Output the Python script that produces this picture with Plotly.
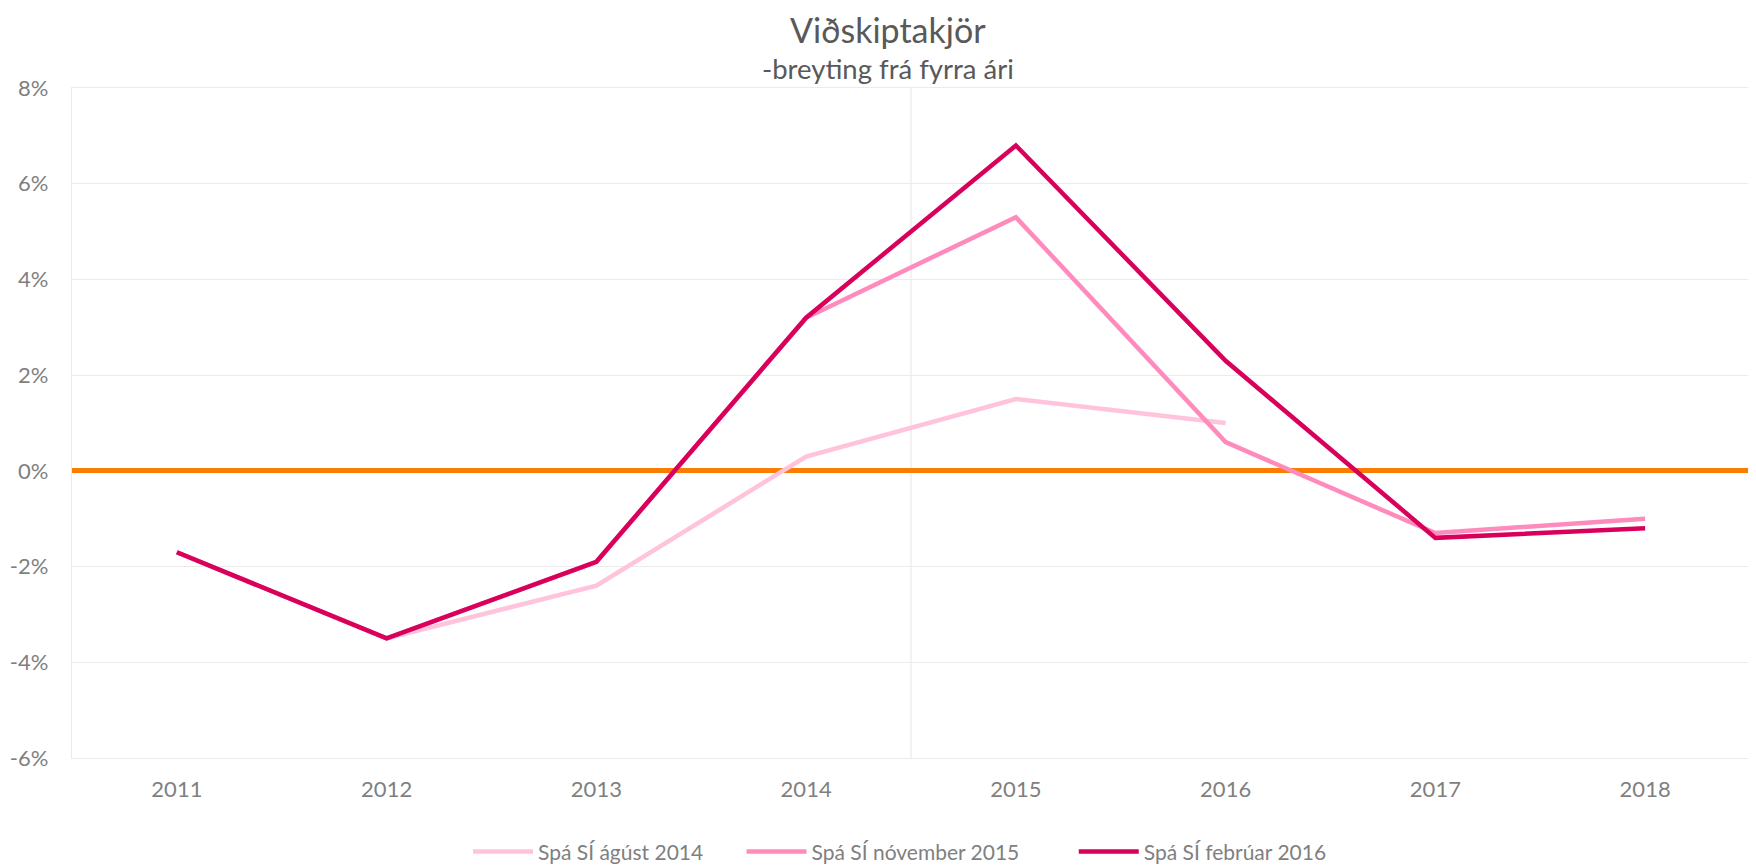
import plotly.graph_objects as go

years = ["2011", "2012", "2013", "2014", "2015", "2016", "2017", "2018"]
spa_agust_2014 = [-1.7, -3.5, -2.4, 0.3, 1.5, 1.0, None, None]
spa_november_2015 = [-1.7, -3.5, -1.9, 3.2, 5.3, 0.6, -1.3, -1.0]
spa_februar_2016 = [-1.7, -3.5, -1.9, 3.2, 6.8, 2.3, -1.4, -1.2]
y_ticks = [-6, -4, -2, 0, 2, 4, 6, 8]
y_ticklabels = ["-6%", "-4%", "-2%", "0%", "2%", "4%", "6%", "8%"]

names = ["Spá SÍ ágúst 2014", "Spá SÍ nóvember 2015", "Spá SÍ febrúar 2016"]
series = [spa_agust_2014, spa_november_2015, spa_februar_2016]
colors = ["#FFC3DC", "#FF8ABC", "#D9005B"]
legend_ids = ["legend", "legend2", "legend3"]
legend_x = [0.236, 0.399, 0.597]

FONT = "Lato"
GRID = "#EBEBEB"
TXT = "#7F7F7F"

fig = go.Figure()
for name, vals, col, lg in zip(names, series, colors, legend_ids):
    fig.add_trace(go.Scatter(
        x=list(range(len(years))), y=vals, name=name, mode="lines",
        line=dict(color=col, width=4.5), connectgaps=False, legend=lg,
    ))

fig.add_shape(type="line", xref="x", yref="paper", x0=3.5, x1=3.5, y0=0, y1=1,
              line=dict(color=GRID, width=1.3), layer="below")

legend_style = dict(orientation="h", xanchor="left", y=-0.140, yanchor="middle",
                    font=dict(family=FONT, size=21, color=TXT), itemwidth=60,
                    bgcolor="rgba(0,0,0,0)")

fig.update_layout(
    width=1748, height=857,
    margin=dict(l=64, r=6, t=80, b=107, autoexpand=False),
    paper_bgcolor="white", plot_bgcolor="white",
    font=dict(family=FONT, size=22, color=TXT),
    showlegend=True,
    legend=dict(x=legend_x[0], **legend_style),
    legend2=dict(x=legend_x[1], **legend_style),
    legend3=dict(x=legend_x[2], **legend_style),
    xaxis=dict(
        range=[-0.5, len(years) - 0.5],
        tickmode="array", tickvals=list(range(len(years))), ticktext=years,
        showgrid=False, zeroline=False,
        showline=True, linecolor=GRID, linewidth=1.3, mirror=True,
        ticks="", ticklabelstandoff=11,
        tickfont=dict(family=FONT, size=22, color=TXT),
    ),
    yaxis=dict(
        range=[-6, 8],
        tickmode="array", tickvals=y_ticks, ticktext=y_ticklabels,
        showgrid=True, gridcolor=GRID, gridwidth=1.3,
        zeroline=True, zerolinecolor="#FA7D00", zerolinewidth=4.5,
        showline=True, linecolor=GRID, linewidth=1.3, mirror=True,
        ticks="", ticklabelstandoff=18,
        tickfont=dict(family=FONT, size=22, color=TXT),
    ),
    annotations=[
        dict(text="Viðskiptakjör", xref="paper", yref="paper", x=0.486, y=1.0866,
             xanchor="center", yanchor="middle", showarrow=False,
             font=dict(family=FONT, size=34, color="#595959")),
        dict(text="-breyting frá fyrra ári", xref="paper", yref="paper", x=0.486, y=1.029,
             xanchor="center", yanchor="middle", showarrow=False,
             font=dict(family=FONT, size=27.5, color="#595959")),
    ],
)

fig.write_html("out.html")
